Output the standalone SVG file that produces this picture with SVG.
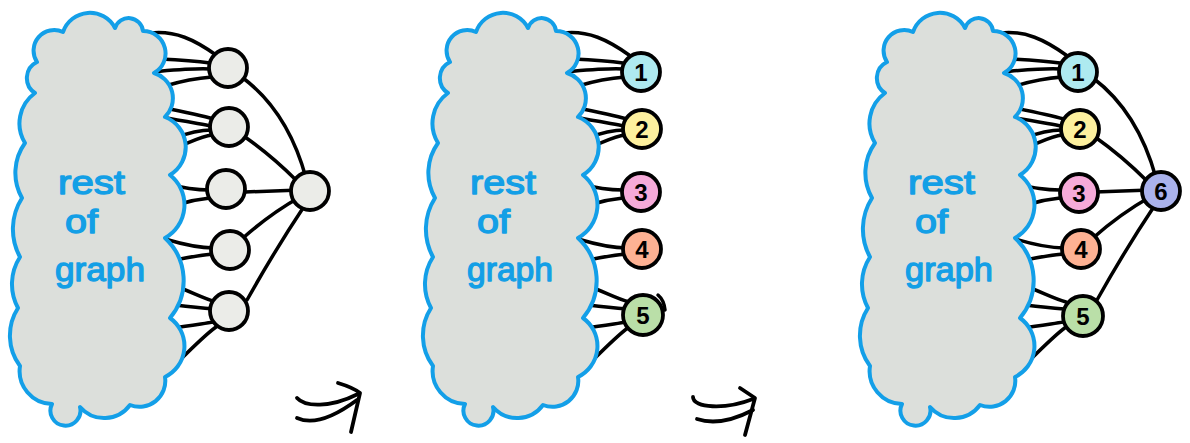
<svg xmlns="http://www.w3.org/2000/svg" width="1190" height="443" viewBox="0 0 1190 443">
<style>
.cloud{fill:#dcdfdb;stroke:#139fe8;stroke-width:4;stroke-linejoin:round}
.lbl{font-family:"Liberation Sans","DejaVu Sans",sans-serif;font-size:34px;fill:#139fe6;stroke:#139fe6;stroke-width:1.3;stroke-linejoin:round}
.e{fill:none;stroke:#000;stroke-width:3.5;stroke-linecap:round}
.n{stroke:#000;stroke-width:3.8}
.num{font-family:"Liberation Sans","DejaVu Sans",sans-serif;font-size:24px;font-weight:bold;fill:#000;text-anchor:middle}
.arr{fill:none;stroke:#000;stroke-width:3.8;stroke-linecap:round;stroke-linejoin:round}
</style>
<defs>
<path id="cloudShape" d="M37,62 A20.6,20.6 0 0 1 63,32 A28.4,28.4 0 0 1 115,28 A14.4,14.4 0 0 1 143,31 A22.4,22.4 0 0 1 154,73 A26.3,26.3 0 0 1 165,117 A32.4,32.4 0 0 1 170,175 A38,38 0 0 1 165,238 A58,58 0 0 1 170,318 A34.4,34.4 0 0 1 165,377 A25.8,25.8 0 0 1 130,405 A32,32 0 0 1 80,407 A15,15 0 1 1 52,404 A33,33 0 0 1 20,366 A51,51 0 0 1 18,308 A50,50 0 0 1 20,257 A58,58 0 0 1 22,198 A51,51 0 0 1 25,143 A37.5,37.5 0 0 1 35,93 A17.8,17.8 0 0 1 37,62 Z"/>
<g id="cloudEdges">
<path d="M150,33 C175,30 195,40 216,55"/>
<path d="M160,59 C180,60 195,61 210,63"/>
<path d="M150,72 C175,70 195,68 210,69"/>
<path d="M165,86 C185,80 198,78 212,77"/>
<path d="M160,107 C185,112 200,115 214,119"/>
<path d="M160,117 C185,121 200,124 212,126"/>
<path d="M175,138 C190,132 200,130 212,130"/>
<path d="M180,146 C195,140 203,136 212,135"/>
<path d="M165,184 C185,188 195,190 210,190"/>
<path d="M180,204 C193,200 200,199 210,198"/>
<path d="M165,239 C185,245 198,248 214,248"/>
<path d="M175,260 C190,257 200,255 214,254"/>
<path d="M175,286 C192,292 202,298 216,302"/>
<path d="M175,305 C192,307 202,308 214,309"/>
<path d="M172,328 C190,326 200,324 214,322"/>
<path d="M180,360 C195,345 205,335 216,327"/>
</g>
<g id="hubEdges">
<path d="M243,78 Q288,112 306,178"/>
<path d="M245,137 Q272,156 297,181"/>
<path d="M245,192 L300,190"/>
<path d="M243,238 Q270,214 300,197"/>
<path d="M247,300 Q275,250 305,205"/>
</g>
</defs>

<g id="connectors">
<use href="#cloudEdges" class="e"/>
<use href="#hubEdges" class="e"/>
<use href="#cloudEdges" class="e" transform="translate(413,0)"/>
<use href="#cloudEdges" class="e" transform="translate(850,0)"/>
<use href="#hubEdges" class="e" transform="translate(850,0)"/>
<g id="arrows" class="arr">
<path d="M297,398 C305,407 330,408 358,394"/>
<path d="M297,418 C310,424 330,420 357,400"/>
<path d="M338,383 C348,386 355,389 360,393 L351,432"/>
<path d="M693,397 C693,408 725,410 753,399"/>
<path d="M697,419 C712,424 730,422 753,410"/>
<path d="M740,388 L755,398 L745,435"/>
</g>
</g>

<g id="cloud1">
<use href="#cloudShape" class="cloud"/>
<text class="lbl" x="58" y="194" textLength="67" lengthAdjust="spacingAndGlyphs">rest</text>
<text class="lbl" x="65" y="233" textLength="33" lengthAdjust="spacingAndGlyphs">of</text>
<text class="lbl" x="55" y="281" textLength="90" lengthAdjust="spacingAndGlyphs">graph</text>
</g>
<g id="cloud2">
<use href="#cloudShape" class="cloud" transform="translate(413,0)"/>
<text class="lbl" x="470" y="194" textLength="66" lengthAdjust="spacingAndGlyphs">rest</text>
<text class="lbl" x="477" y="233" textLength="33" lengthAdjust="spacingAndGlyphs">of</text>
<text class="lbl" x="467" y="281" textLength="86" lengthAdjust="spacingAndGlyphs">graph</text>
</g>
<g id="cloud3">
<use href="#cloudShape" class="cloud" transform="translate(850,0)"/>
<text class="lbl" x="908" y="194" textLength="67" lengthAdjust="spacingAndGlyphs">rest</text>
<text class="lbl" x="915" y="233" textLength="33" lengthAdjust="spacingAndGlyphs">of</text>
<text class="lbl" x="905" y="281" textLength="88" lengthAdjust="spacingAndGlyphs">graph</text>
</g>

<g id="p1-n1"><circle class="n" cx="228" cy="68" r="19" fill="#ebece8"/></g>
<g id="p1-n2"><circle class="n" cx="229" cy="127" r="19" fill="#ebece8"/></g>
<g id="p1-n3"><circle class="n" cx="226" cy="189" r="19" fill="#ebece8"/></g>
<g id="p1-n4"><circle class="n" cx="230" cy="250" r="19" fill="#ebece8"/></g>
<g id="p1-n5"><circle class="n" cx="229" cy="311" r="19" fill="#ebece8"/></g>
<g id="p1-hub"><circle class="n" cx="310" cy="191" r="19" fill="#ebece8"/></g>

<g id="p2-n1"><circle class="n" cx="641" cy="72" r="19" fill="#aeeaf0"/><text class="num" x="641" y="81">1</text></g>
<g id="p2-n2"><circle class="n" cx="642" cy="129" r="19" fill="#fdf09e"/><text class="num" x="642" y="138">2</text></g>
<g id="p2-n3"><circle class="n" cx="641" cy="192" r="19" fill="#f6aad9"/><text class="num" x="641" y="201">3</text></g>
<g id="p2-n4"><circle class="n" cx="642" cy="249" r="19" fill="#fdb193"/><text class="num" x="642" y="258">4</text></g>
<g id="p2-n5"><circle class="n" cx="643" cy="315" r="20" fill="#badfa8"/><path class="e" d="M658,295 Q664,300 665,310"/><text class="num" x="643" y="324">5</text></g>

<g id="p3-n1"><circle class="n" cx="1078" cy="72" r="19" fill="#aeeaf0"/><text class="num" x="1078" y="81">1</text></g>
<g id="p3-n2"><circle class="n" cx="1080" cy="129" r="19" fill="#fdf09e"/><text class="num" x="1080" y="138">2</text></g>
<g id="p3-n3"><circle class="n" cx="1079" cy="193" r="19" fill="#f6aad9"/><text class="num" x="1079" y="202">3</text></g>
<g id="p3-n4"><circle class="n" cx="1081" cy="249" r="19" fill="#fdb193"/><text class="num" x="1081" y="258">4</text></g>
<g id="p3-n5"><circle class="n" cx="1083" cy="316" r="20" fill="#badfa8"/><text class="num" x="1083" y="325">5</text></g>
<g id="p3-n6"><circle class="n" cx="1161" cy="191" r="19" fill="#aab2ec"/><text class="num" x="1161" y="200">6</text></g>
</svg>
